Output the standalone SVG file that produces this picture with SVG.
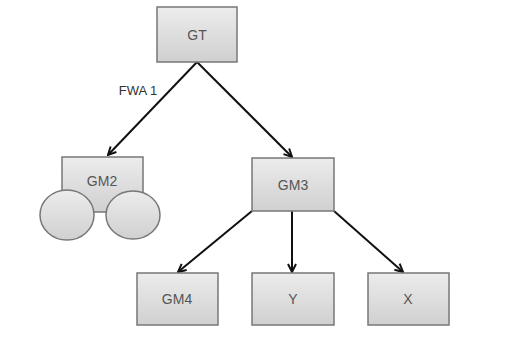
<svg xmlns="http://www.w3.org/2000/svg" width="528" height="346" viewBox="0 0 528 346">
<defs>
<linearGradient id="g" x1="0" y1="0" x2="0" y2="1"><stop offset="0" stop-color="#ececec"/><stop offset="1" stop-color="#d0d0d0"/></linearGradient>
<marker id="a" markerWidth="10" markerHeight="10" refX="9" refY="5" orient="auto" markerUnits="userSpaceOnUse"><path d="M1,1 L9,5 L1,9" fill="none" stroke="#111" stroke-width="2"/></marker>
</defs>
<style>
.b{fill:url(#g);stroke:#777;stroke-width:1.5}
.t{font-family:"Liberation Sans",Arial,sans-serif;font-size:14px;fill:#555;text-anchor:middle}
.c{stroke:#111;stroke-width:2;fill:none;marker-end:url(#a)}
</style>
<rect width="528" height="346" fill="#fff"/>
<g id="connectors">
<line class="c" x1="197" y1="62" x2="108" y2="155"/>
<line class="c" x1="197" y1="62" x2="292" y2="157"/>
<line class="c" x1="252" y1="211" x2="178" y2="272"/>
<line class="c" x1="292" y1="211" x2="292" y2="272"/>
<line class="c" x1="334" y1="211" x2="403" y2="272"/>
</g>
<text class="t" x="138" y="95" style="font-size:13px;fill:#333">FWA 1</text>
<g id="GT"><rect class="b" x="157" y="7" width="80" height="55"/><text class="t" x="197" y="40">GT</text></g>
<g id="GM2"><rect class="b" x="62" y="157" width="81" height="55"/><text class="t" x="102" y="186">GM2</text>
<ellipse class="b" cx="67" cy="215" rx="27" ry="25"/><ellipse class="b" cx="133" cy="215" rx="27" ry="24"/></g>
<g id="GM3"><rect class="b" x="252" y="158" width="82" height="53"/><text class="t" x="293" y="190">GM3</text></g>
<g id="GM4"><rect class="b" x="137" y="273" width="81" height="52"/><text class="t" x="177" y="304">GM4</text></g>
<g id="Y"><rect class="b" x="252" y="273" width="82" height="52"/><text class="t" x="293" y="304">Y</text></g>
<g id="X"><rect class="b" x="368" y="273" width="81" height="52"/><text class="t" x="408" y="304">X</text></g>
</svg>
